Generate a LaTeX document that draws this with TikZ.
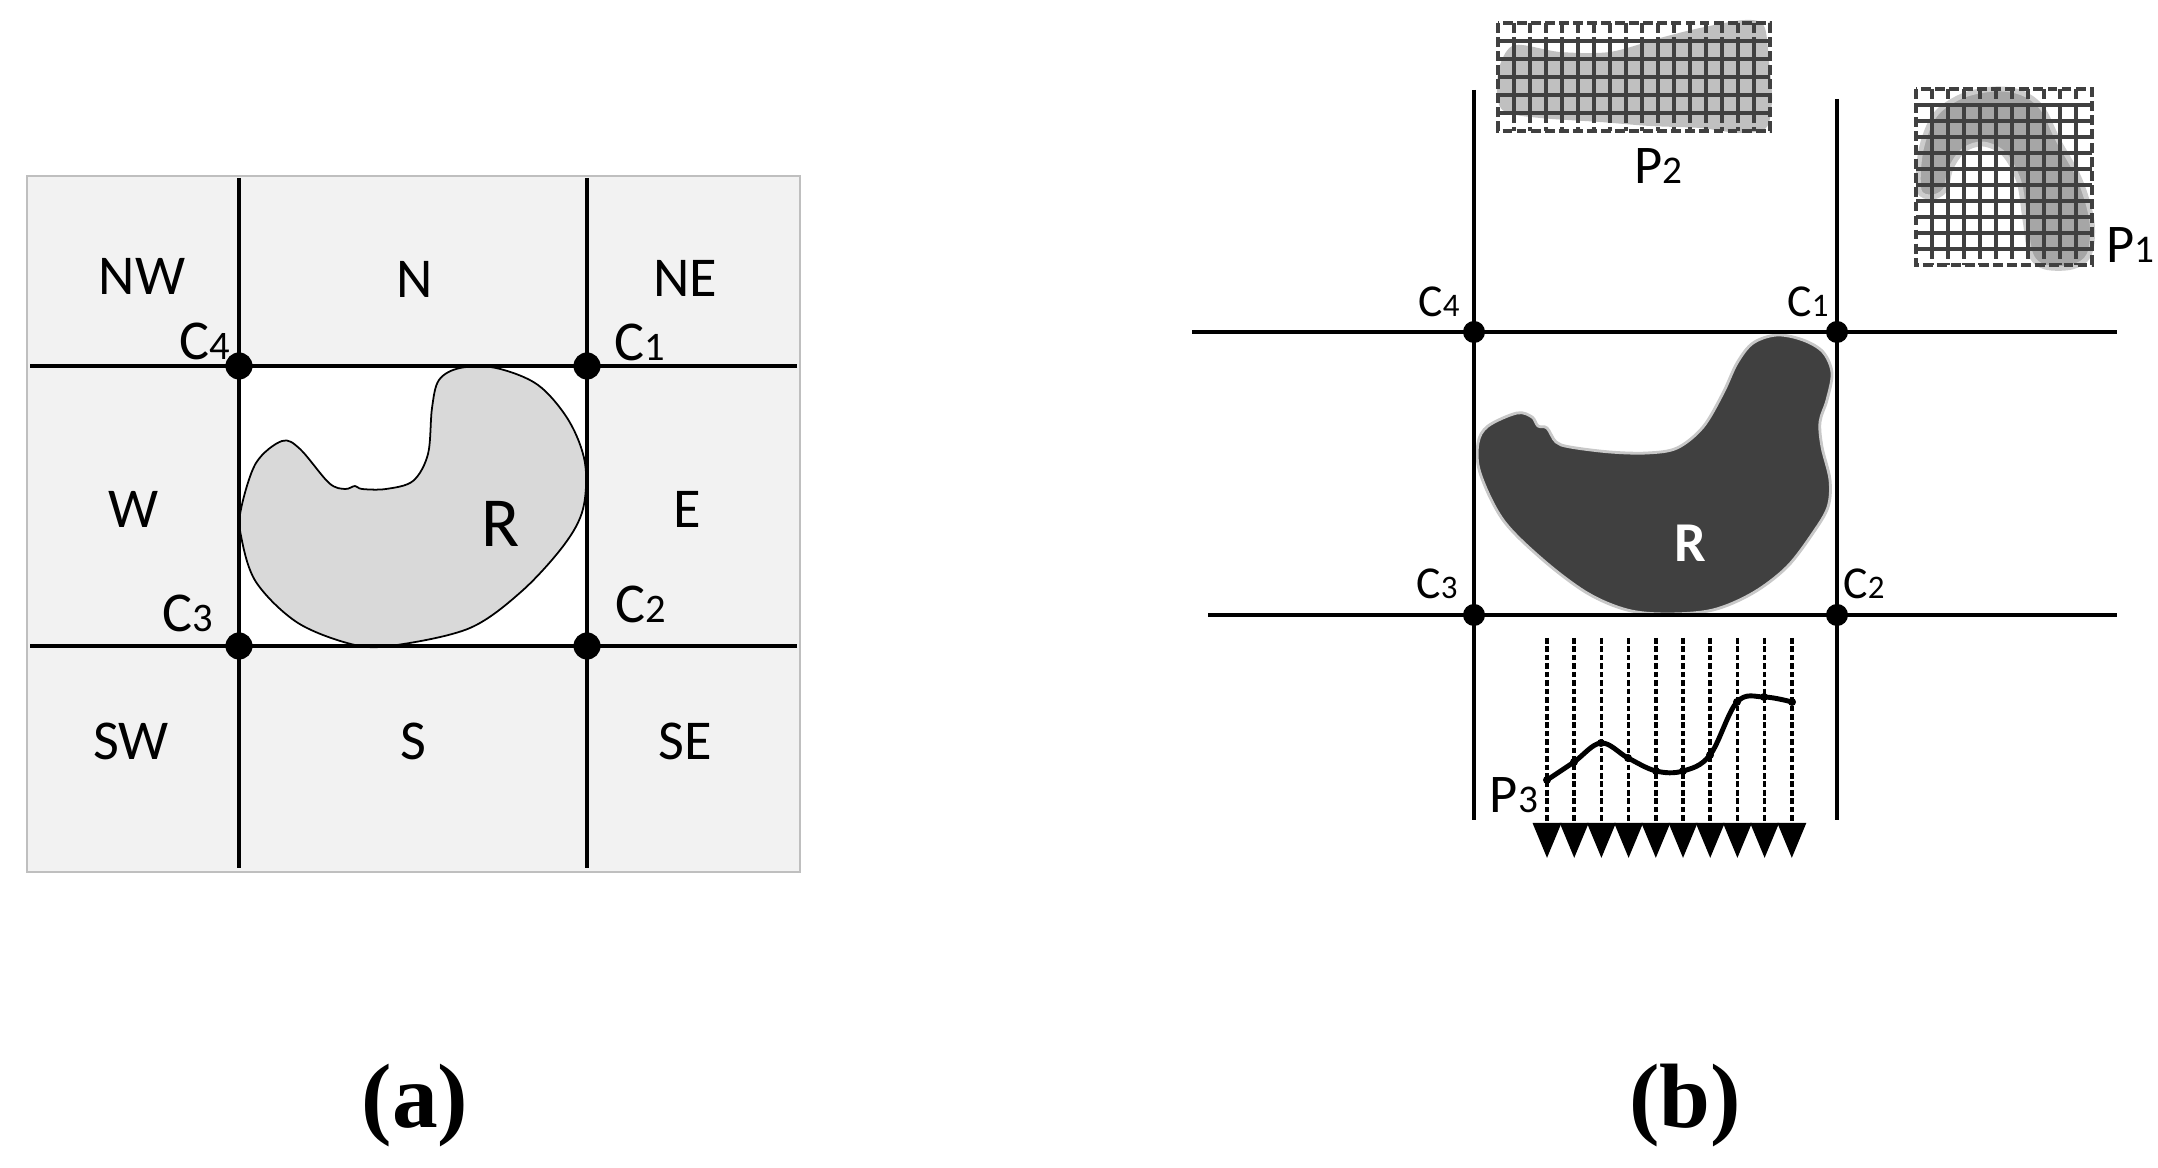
\documentclass[tikz,border=0pt]{standalone}
\usepackage{fontspec}
\setmainfont{Carlito}
\newfontfamily\capfont{Liberation Serif}
\usetikzlibrary{arrows.meta}
\definecolor{boxfill}{HTML}{F2F2F2}
\definecolor{boxline}{HTML}{BFBFBF}
\definecolor{blobA}{HTML}{D9D9D9}
\definecolor{blobB}{HTML}{404040}
\definecolor{blobBline}{HTML}{C8C8C8}
\definecolor{gridc}{HTML}{404040}
\definecolor{ptwofill}{HTML}{C0C0C0}
\definecolor{ponefill}{HTML}{A6A6A6}
\definecolor{poneline}{HTML}{CCCCCC}
\newcommand\sbs[1]{\scalebox{0.72}{#1}}
\begin{document}
\begin{tikzpicture}[x=0.01cm,y=-0.01cm,
  gline/.style={line width=1.15pt,black},
  bline/.style={line width=1pt,black},
  lab/.style={font=\fontsize{16}{19}\selectfont,inner sep=0pt},
  rlab/.style={font=\fontsize{20}{24}\selectfont,inner sep=0pt},
  clab/.style={font=\fontsize{13}{15}\selectfont,inner sep=0pt},
  plab/.style={font=\fontsize{15.5}{18}\selectfont,inner sep=0pt},
  dotA/.style={circle,fill=black,inner sep=0pt,minimum size=0.27cm},
  dotB/.style={circle,fill=black,inner sep=0pt,minimum size=0.22cm},
  pdot/.style={circle,fill=black,inner sep=0pt,minimum size=0.08cm},
  captext/.style={font=\capfont\bfseries\fontsize{26}{30}\selectfont,inner sep=0pt},
  gridh/.style={draw=gridc,line width=1.35pt},
  gridv/.style={draw=gridc,line width=1.1pt},
  gridd/.style={draw=gridc,line width=1.1pt,dash pattern=on 2.8pt off 1.2pt},
  dashl/.style={line width=1pt,dash pattern=on 1.6pt off 0.8pt},
  tri/.style={-{Triangle[width=0.28cm,length=0.35cm]}}
]
\useasboundingbox[fill=white] (0,0) rectangle (2158,1168);

% ---------------- panel (a) ----------------
\fill[boxfill] (27,176) rectangle (800,872);
\draw[boxline,line width=0.7pt] (27,176) rectangle (800,872);
\fill[white] (239,366) rectangle (587,646);
\draw[black,line width=0.5pt,fill=blobA] plot[smooth cycle,tension=0.55] coordinates {
 (241,509) (256,463) (282,441) (300,449) (329,483) (345,489) (355,486) (362,489) (386,489)
 (413,481) (428,454) (432,408) (439,380) (460,368) (496,368) (538,385) (569,421)
 (585,463) (583,509) (564,545) (522,591) (470,628) (397,645) (355,645) (298,623)
 (256,582) (241,536)};
\draw[gline] (239,178) -- (239,868);
\draw[gline] (587,178) -- (587,868);
\draw[gline] (30,366) -- (797,366);
\draw[gline] (30,646) -- (797,646);
\node[dotA] (a4) at (239,366) {};
\node[dotA] (a1) at (587,366) {};
\node[dotA] (a3) at (239,646) {};
\node[dotA] (a2) at (587,646) {};
\node[lab] (nw) at (142,276) {NW};
\node[lab] (n) at (415,279) {N};
\node[lab] (ne) at (685,278) {NE};
\node[lab] (w) at (134,509) {W};
\node[lab] (e) at (687,509) {E};
\node[lab] (sw) at (131,741) {SW};
\node[lab] (s) at (413,741) {S};
\node[lab] (se) at (685,741) {SE};
\node[lab] (ca4) at (205,341) {C\sbs{4}};
\node[lab] (ca1) at (640,342) {C\sbs{1}};
\node[lab] (ca3) at (188,613) {C\sbs{3}};
\node[lab] (ca2) at (641,604) {C\sbs{2}};
\node[rlab] (ra) at (501,524) {R};
\node[captext] (capa) at (415,1106) {(a)};

% ---------------- panel (b) ----------------
% P2 pattern
\fill[ptwofill] plot[smooth cycle,tension=0.5] coordinates {
 (1515,45) (1560,52) (1610,52) (1660,38) (1700,28) (1745,20) (1764,26)
 (1769,62) (1772,100) (1766,128) (1740,133) (1700,128) (1650,126) (1600,122)
 (1540,118) (1505,112) (1497,95) (1500,65)};
\foreach \i in {1,...,5} \draw[gridh] (1498,{23+18*\i}) -- (1770,{23+18*\i});
\foreach \j in {1,...,16} {
  \draw[gridv] ({1498+16*\j},41) -- ({1498+16*\j},113);
  \draw[gridd] ({1498+16*\j},23) -- ({1498+16*\j},41);
  \draw[gridd] ({1498+16*\j},113) -- ({1498+16*\j},131);
}
\draw[gridd] (1498,23) rectangle (1770,131);
\node[plab] (p2) at (1658,166) {P\sbs{2}};

% P1 pattern
\filldraw[fill=ponefill,draw=poneline,line width=1.4pt] plot[smooth cycle,tension=0.55] coordinates {
 (1919,190) (1921,150) (1935,115) (1962,96) (1995,89) (2022,93) (2042,108)
 (2058,140) (2080,180) (2092,222) (2089,255) (2072,267) (2045,267) (2031,255)
 (2025,220) (2019,182) (2004,154) (1983,144) (1964,150) (1951,168) (1945,190) (1932,197)};
\foreach \i in {1,...,10} \draw[gridh] (1916,{89+16*\i}) -- (2092,{89+16*\i});
\foreach \j in {1,...,10} {
  \draw[gridv] ({1916+16*\j},105) -- ({1916+16*\j},249);
  \draw[gridd] ({1916+16*\j},89) -- ({1916+16*\j},105);
  \draw[gridd] ({1916+16*\j},249) -- ({1916+16*\j},265);
}
\draw[gridd] (1916,89) rectangle (2092,265);
\node[plab] (p1) at (2130,245) {P\sbs{1}};

% region R
\filldraw[fill=blobB,draw=blobBline,line width=0.8pt] plot[smooth cycle,tension=0.55] coordinates {
 (1777,335) (1803,340) (1823,352) (1832,373) (1827,400) (1820,422) (1822,447)
 (1830,480) (1828,507) (1813,533) (1787,567) (1753,593) (1713,610) (1667,614)
 (1627,610) (1587,593) (1543,560) (1503,520) (1480,473) (1478,443) (1488,426)
 (1517,413) (1532,417) (1538,426) (1547,428) (1556,442) (1570,447) (1610,452)
 (1647,453) (1677,448) (1703,427) (1723,393) (1737,363) (1753,343)};
\node[font=\bfseries\fontsize{16}{18}\selectfont,text=white,inner sep=0pt] (rb) at (1690,543) {R};

\draw[bline] (1192,332) -- (2117,332);
\draw[bline] (1208,615) -- (2117,615);
\draw[bline] (1474,90) -- (1474,820);
\draw[bline] (1837,99) -- (1837,820);
\node[dotB] (b4) at (1474,332) {};
\node[dotB] (b1) at (1837,332) {};
\node[dotB] (b3) at (1474,615) {};
\node[dotB] (b2) at (1837,615) {};
\node[clab] (cb4) at (1439,302) {C\sbs{4}};
\node[clab] (cb1) at (1808,302) {C\sbs{1}};
\node[clab] (cb3) at (1437,584) {C\sbs{3}};
\node[clab] (cb2) at (1864,584) {C\sbs{2}};

% P3 projection
\foreach \k in {0,...,9} \draw[dashl,tri] ({1547+27.2*\k},638) -- ({1547+27.2*\k},858);
\draw[line width=1.4pt] plot[smooth,tension=0.6] coordinates {
 (1547,780) (1574,762) (1601,743) (1628,758) (1656,771) (1683,771) (1710,755)
 (1737,702) (1764,697) (1792,702)};
\foreach \px/\py [count=\c] in {1547/780,1574/762,1601/743,1628/758,1656/771,1683/771,1710/755,1737/702,1764/697,1792/702}
  \node[pdot] (q\c) at (\px,\py) {};
\node[plab] (p3) at (1514,795) {P\sbs{3}};
\node[captext] (capb) at (1685,1106) {(b)};
\end{tikzpicture}
\end{document}
